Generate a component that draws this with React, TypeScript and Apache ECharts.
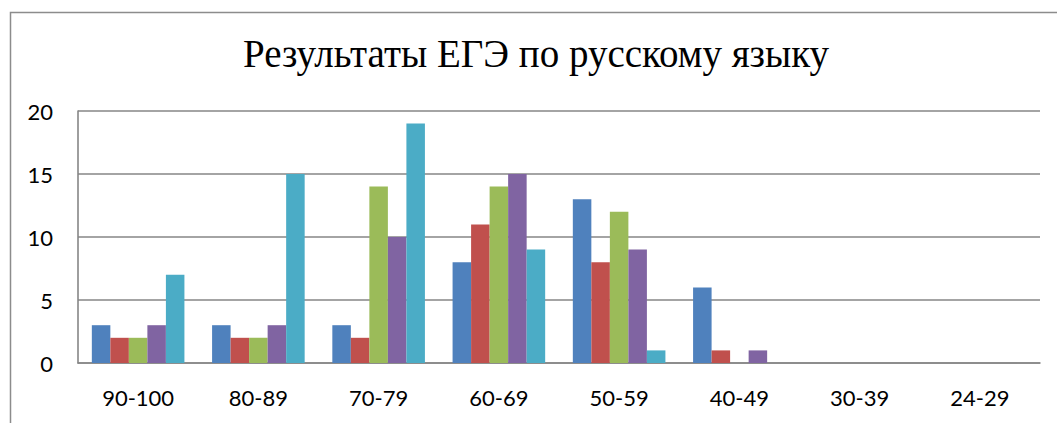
import React, { useEffect, useRef } from "react";
import * as echarts from "echarts";

const categories = ["90-100", "80-89", "70-79", "60-69", "50-59", "40-49", "30-39", "24-29"];
const series1 = [3, 3, 3, 8, 13, 6, 0, 0];
const series2 = [2, 2, 2, 11, 8, 1, 0, 0];
const series3 = [2, 2, 14, 14, 12, 0, 0, 0];
const series4 = [3, 3, 10, 15, 9, 1, 0, 0];
const series5 = [7, 15, 19, 9, 1, 0, 0, 0];
const colors = ["#4F81BD", "#C0504D", "#9BBB59", "#8064A2", "#4BACC6"];
const titleText = "Результаты ЕГЭ по русскому языку";

export default function App() {
  const ref = useRef<HTMLDivElement>(null);
  useEffect(() => {
    if (!ref.current) return;
    const chart = echarts.init(ref.current, null, { renderer: "svg" });
    const all = [series1, series2, series3, series4, series5];
    chart.setOption({
      animation: false,
      backgroundColor: "#ffffff",
      title: {
        text: titleText,
        left: 243,
        top: 34,
        padding: 0,
        textStyle: {
          fontFamily: "Liberation Serif",
          fontSize: 39,
          fontWeight: "normal",
          color: "#000000",
        },
      },
      graphic: [
        {
          type: "rect",
          shape: { x: 10.5, y: 12.5, width: 1200, height: 600 },
          style: { fill: "none", stroke: "#8c8c8c", lineWidth: 1.5 },
          silent: true,
        },
      ],
      grid: { left: 78, right: 17, top: 111, bottom: 60 },
      xAxis: {
        type: "category",
        data: categories,
        axisLine: { show: true, lineStyle: { color: "#868686", width: 1.6 } },
        axisTick: { show: false },
        axisLabel: {
          margin: 23,
          fontFamily: "Lato",
          fontSize: 22,
          color: "#000000",
        },
      },
      yAxis: {
        type: "value",
        min: 0,
        max: 20,
        interval: 5,
        axisLine: { show: true, lineStyle: { color: "#868686", width: 1.6 } },
        axisTick: { show: false },
        splitLine: { lineStyle: { color: "#868686", width: 1.6 } },
        axisLabel: {
          margin: 25,
          fontFamily: "Lato",
          fontSize: 22,
          color: "#000000",
        },
      },
      series: all.map((d, i) => ({
        type: "bar",
        data: d,
        barGap: "0%",
        barCategoryGap: "23%",
        itemStyle: { color: colors[i] },
      })),
    });
    return () => chart.dispose();
  }, []);
  return (
    <div
      ref={ref}
      style={{ position: "fixed", left: 0, top: 0, width: 1057, height: 423 }}
    />
  );
}
